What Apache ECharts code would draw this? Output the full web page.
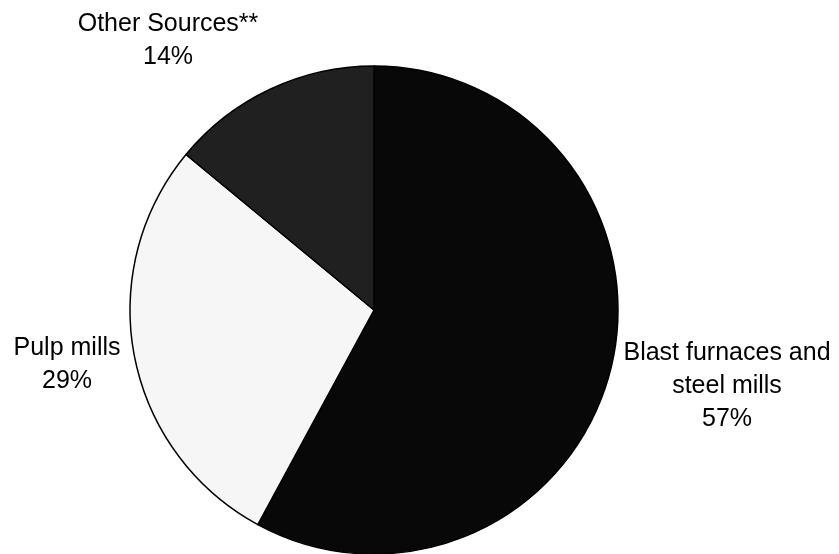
<!DOCTYPE html>
<html>
<head>
<meta charset="utf-8">
<script src="https://cdn.jsdelivr.net/npm/echarts@6/dist/echarts.min.js"></script>
<style>
html,body{margin:0;padding:0;background:#fff;}
#chart{width:839px;height:554px;}
</style>
</head>
<body>
<div id="chart"></div>
<script>
// Data
const categories = ['Blast furnaces and\nsteel mills', 'Pulp mills', 'Other Sources**'];
const values = [57.9, 28.1, 14.0];
const pctLabels = ['57%', '29%', '14%'];
const sliceColors = ['#080808', '#f6f6f6', '#202020'];

// Label anchor points (text block centres)
const labelSpots = [[727, 386], [67, 365], [168, 41]];

const chart = echarts.init(document.getElementById('chart'), null, {renderer: 'canvas'});
chart.setOption({
  animation: false,
  backgroundColor: '#ffffff',
  series: [{
    type: 'pie',
    center: [374, 310],
    radius: [0, 244],
    startAngle: 90,
    clockwise: true,
    silent: true,
    data: categories.map((c, i) => ({
      name: c,
      value: values[i],
      itemStyle: {color: sliceColors[i]}
    })),
    itemStyle: {borderColor: '#000', borderWidth: 1.5},
    label: {
      show: true,
      position: 'inside',
      overflow: 'none',
      formatter: p => p.name + '\n' + pctLabels[p.dataIndex],
      fontFamily: 'Liberation Sans, Arial, sans-serif',
      fontSize: 25,
      lineHeight: 33,
      color: '#000',
      align: 'center'
    },
    labelLine: {show: false},
    labelLayout: params => ({
      x: labelSpots[params.dataIndex][0],
      y: labelSpots[params.dataIndex][1],
      align: 'center',
      verticalAlign: 'middle'
    })
  }]
});
</script>
</body>
</html>
